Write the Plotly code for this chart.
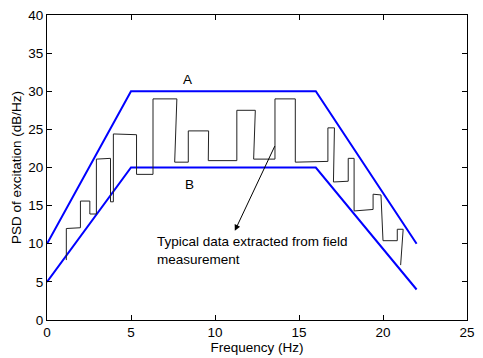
import plotly.graph_objects as go

# Envelope lines
a_x = [0, 5, 16, 22]
a_y = [10, 30, 30, 10]
b_x = [0, 5, 16, 22]
b_y = [5, 20, 20, 4]

# Typical measured data (step path)
d_x = [1.15, 1.15, 1.99, 1.99, 2.55, 2.55, 2.94, 2.94, 3.78, 3.78, 3.95, 3.95, 5.33, 5.33,
       6.31, 6.31, 7.73, 7.6, 8.41, 8.41, 9.62, 9.6, 11.3, 11.3, 12.4, 12.3, 13.57, 13.57,
       14.78, 14.78, 16.72, 16.72, 17.11, 17.05, 17.93, 17.93, 18.28, 18.28, 19.41, 19.41,
       19.88, 20.0, 20.85, 20.85, 21.2, 21.05]
d_y = [7.86, 12.0, 12.1, 15.6, 15.6, 13.9, 13.9, 21.1, 21.2, 15.5, 15.5, 24.4, 24.3, 19.1,
       19.1, 29.0, 29.0, 20.7, 20.7, 24.8, 24.8, 20.9, 20.9, 27.5, 27.5, 21.1, 21.1, 29.0,
       29.0, 20.7, 20.8, 25.2, 25.2, 18.1, 18.2, 21.2, 21.2, 14.3, 14.5, 16.5, 16.4, 10.4,
       10.4, 11.9, 11.9, 7.2]

x_ticks = [0, 5, 10, 15, 20, 25]
y_ticks = [0, 5, 10, 15, 20, 25, 30, 35, 40]

font = "Liberation Sans, Arial, sans-serif"
fs = 13.5

fig = go.Figure()
fig.add_trace(go.Scatter(x=a_x, y=a_y, mode="lines", line=dict(color="#0000ff", width=2), showlegend=False))
fig.add_trace(go.Scatter(x=b_x, y=b_y, mode="lines", line=dict(color="#0000ff", width=2), showlegend=False))
fig.add_trace(go.Scatter(x=d_x, y=d_y, mode="lines", line=dict(color="#222222", width=1), showlegend=False))

fig.add_annotation(x=8.35, y=31.5, text="A", showarrow=False, font=dict(family=font, size=fs, color="black"))
fig.add_annotation(x=8.47, y=17.8, text="B", showarrow=False, font=dict(family=font, size=fs, color="black"))
fig.add_annotation(x=11.18, y=11.7, ax=13.6, ay=23.0, axref="x", ayref="y", xref="x", yref="y",
                   text="", showarrow=True, arrowhead=2, arrowsize=1.2, arrowwidth=1, arrowcolor="black")
fig.add_annotation(x=6.44, y=9.13, xanchor="left", yanchor="middle", align="left",
                   text="Typical data extracted from field<br>measurement", showarrow=False,
                   font=dict(family=font, size=fs, color="black"))

axis_common = dict(showline=True, linecolor="black", linewidth=1, mirror="ticks", ticks="inside",
                   ticklen=5, tickcolor="black", showgrid=False, zeroline=False,
                   tickfont=dict(family=font, size=fs, color="black"))
fig.update_xaxes(range=[0, 25], tickvals=x_ticks, title=dict(text="Frequency (Hz)", standoff=0,
                 font=dict(family=font, size=fs, color="black")), **axis_common)
fig.update_yaxes(range=[0, 40], tickvals=y_ticks, title=dict(text="PSD of excitation (dB/Hz)", standoff=3,
                 font=dict(family=font, size=fs, color="black")), **axis_common)

fig.update_layout(width=483, height=358, margin=dict(l=47, r=8, t=15, b=34),
                  plot_bgcolor="white", paper_bgcolor="white")
fig.write_html("out.html")
